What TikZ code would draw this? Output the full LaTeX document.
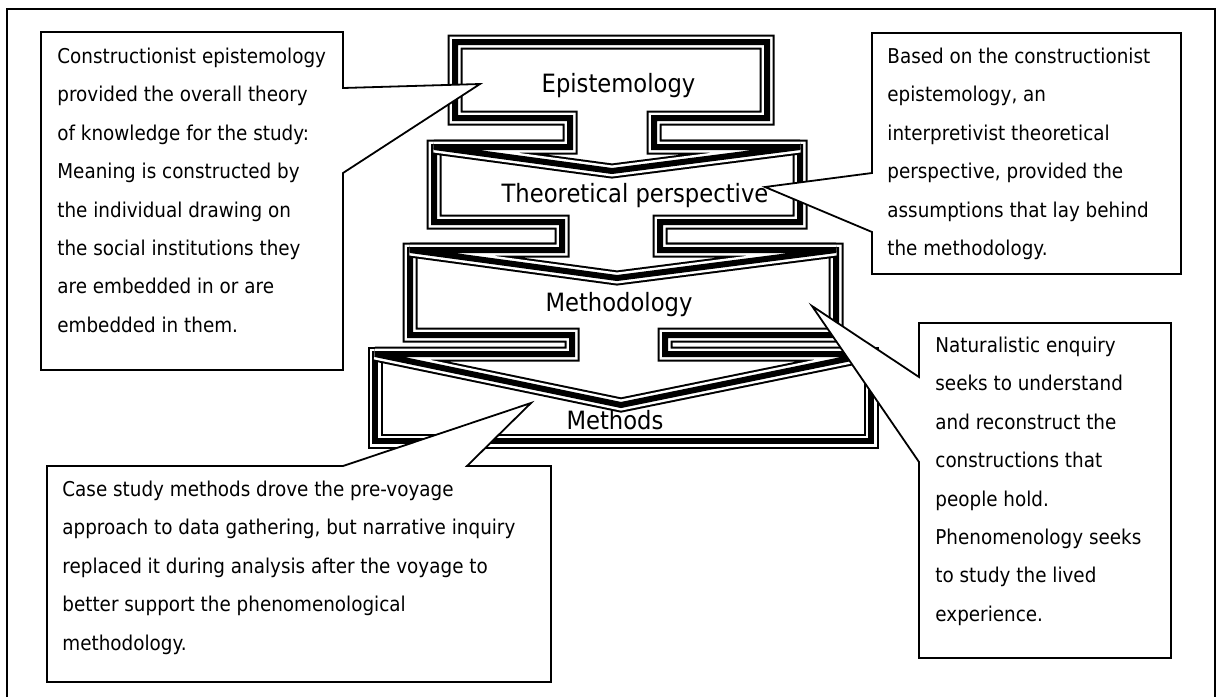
\documentclass[tikz,border=0pt]{standalone}
\usepackage{fontspec}
\setmainfont{DejaVu Sans}[FakeStretch=0.9]
\tikzset{
  triple/.style={fill=white, draw=black, line width=7.5pt, miter limit=3,
    postaction={draw=white, line width=5.5pt},
    postaction={draw=black, line width=3pt}},
  callout/.style={fill=white, draw=black, line width=0.9pt},
  boxtext/.style={anchor=base, inner sep=0pt, font=\fontsize{12.6}{15}\selectfont},
  notetext/.style={anchor=north west, inner sep=0pt, align=left,
    font=\fontsize{10.2}{19.2}\selectfont},
}
\begin{document}
\begin{tikzpicture}[x=0.5pt, y=-0.5pt]
  \useasboundingbox (0,0) rectangle (1216,697);
  % Frame
  \draw[line width=0.75pt] (7,697) -- (7,9) -- (1215,9) -- (1215,697);
  % Methods
  \draw[triple] (375,354) rectangle (871,441);
  % Methodology
  \draw[triple] (410,250) -- (836,250) -- (836,335) -- (665,335) -- (665,354)
    -- (871,354) -- (621,405) -- (375,354) -- (572,354) -- (572,335)
    -- (410,335) -- cycle;
  % Theoretical perspective
  \draw[triple] (434,147) -- (800,147) -- (800,222) -- (660,222) -- (660,250)
    -- (836,250) -- (617,278) -- (410,250) -- (562,250) -- (562,222)
    -- (434,222) -- cycle;
  % Epistemology
  \draw[triple] (455,42) -- (767,42) -- (767,118) -- (654,118) -- (654,147)
    -- (800,147) -- (612,171) -- (434,147) -- (570,147) -- (570,118)
    -- (455,118) -- cycle;
  % Box labels
  \node[boxtext] (epistemology) at (618.5,92) {Epistemology};
  \node[boxtext] (perspective) at (635,202) {Theoretical perspective};
  \node[boxtext] (methodology) at (619,311) {Methodology};
  \node[boxtext] (methods) at (615,429) {Methods};
  % Callouts
  \draw[callout] (41,32) -- (343,32) -- (343,88) -- (480,84) -- (343,173)
    -- (343,370) -- (41,370) -- cycle;
  \draw[callout] (872,33) -- (1181,33) -- (1181,274) -- (872,274) -- (872,232)
    -- (765,187) -- (872,173) -- cycle;
  \draw[callout] (47,466) -- (343,466) -- (531,403) -- (467,466) -- (551,466)
    -- (551,682) -- (47,682) -- cycle;
  \draw[callout] (919,323) -- (1171,323) -- (1171,658) -- (919,658) -- (919,462)
    -- (812,306) -- (919,377) -- cycle;
  % Callout texts
  \node[notetext] (noteEpist) at (57,47.5) {Constructionist epistemology\\
    provided the overall theory\\of knowledge for the study:\\
    Meaning is constructed by\\the individual drawing on\\
    the social institutions they\\are embedded in or are\\embedded in them.};
  \node[notetext] (notePersp) at (887,47.5) {Based on the constructionist\\
    epistemology, an\\interpretivist theoretical\\perspective, provided the\\
    assumptions that lay behind\\the methodology.};
  \node[notetext] (noteMeths) at (62,480.5) {Case study methods drove the pre-voyage\\
    approach to data gathering, but narrative inquiry\\
    replaced it during analysis after the voyage to\\
    better support the phenomenological\\methodology.};
  \node[notetext] (noteMethy) at (935,336.5) {Naturalistic enquiry\\
    seeks to understand\\and reconstruct the\\constructions that\\
    people hold.\\Phenomenology seeks\\to study the lived\\experience.};
\end{tikzpicture}
\end{document}
